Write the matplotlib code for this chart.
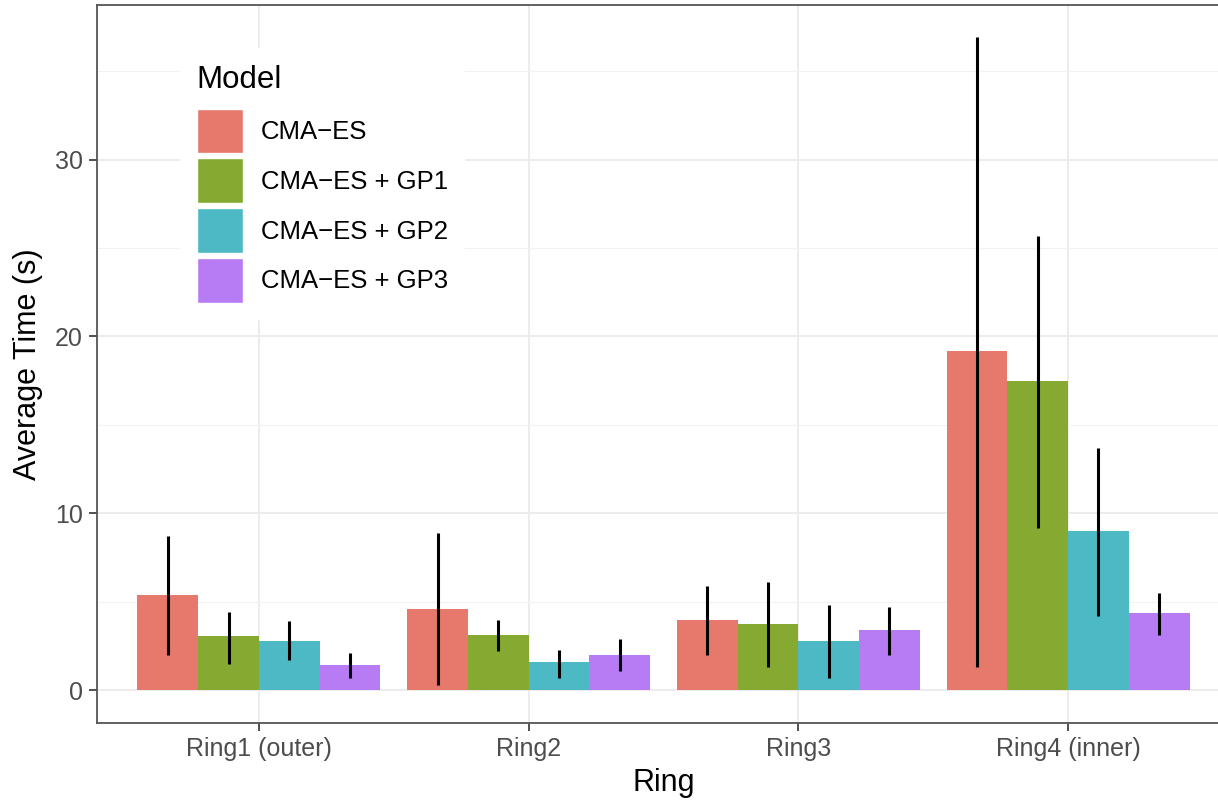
import numpy as np
import matplotlib
matplotlib.use("Agg")
import matplotlib.pyplot as plt
from matplotlib.patches import Patch

plt.rcParams['font.family'] = ['Liberation Sans', 'DejaVu Sans']

rings = ["Ring1 (outer)", "Ring2", "Ring3", "Ring4 (inner)"]
models = ["CMA\u2212ES", "CMA\u2212ES + GP1", "CMA\u2212ES + GP2", "CMA\u2212ES + GP3"]
colors = ["#E7786C", "#86AA31", "#4CB9C4", "#B77BF4"]

# mean time per ring, one list per model
cma = [5.37, 4.6, 4.0, 19.15]
gp1 = [3.05, 3.15, 3.75, 17.5]
gp2 = [2.8, 1.6, 2.8, 9.0]
gp3 = [1.45, 2.0, 3.4, 4.35]

# error bar ranges
cma_lo = [2.0, 0.3, 2.0, 1.3]
cma_hi = [8.7, 8.9, 5.9, 36.9]
gp1_lo = [1.5, 2.2, 1.3, 9.2]
gp1_hi = [4.4, 4.0, 6.1, 25.7]
gp2_lo = [1.7, 0.7, 0.7, 4.2]
gp2_hi = [3.9, 2.3, 4.8, 13.7]
gp3_lo = [0.7, 1.1, 2.0, 3.1]
gp3_hi = [2.1, 2.9, 4.7, 5.5]

means = [cma, gp1, gp2, gp3]
lows = [cma_lo, gp1_lo, gp2_lo, gp3_lo]
highs = [cma_hi, gp1_hi, gp2_hi, gp3_hi]

W, H = 1218, 802
fig = plt.figure(figsize=(W / 100, H / 100), dpi=100)
ax = fig.add_axes([97 / W, 1 - 723 / H, (1230 - 97) / W, (723 - 4.7) / H])

x = np.arange(1, len(rings) + 1)
bw = 0.225
for i in range(4):
    pos = x + (i - 1.5) * bw
    ax.bar(pos, means[i], width=bw, color=colors[i], zorder=2)
    ax.vlines(pos, lows[i], highs[i], color="black", lw=2.2, zorder=3)

ax.set_xlim(0.4, 4.6)
ax.set_ylim(-1.85, 38.75)
ax.set_xticks(x)
ax.set_xticklabels(rings)
ax.set_yticks([0, 10, 20, 30])
ax.set_yticks([5, 15, 25, 35], minor=True)

ax.grid(which="major", color="#EBEBEB", lw=1.3, zorder=0)
ax.grid(which="minor", axis="y", color="#F2F2F2", lw=0.8, zorder=0)
ax.set_axisbelow(True)

for s in ["left", "bottom", "top", "right"]:
    ax.spines[s].set_color("#555555")
    ax.spines[s].set_linewidth(1.3)

ax.tick_params(axis="both", which="major", length=6, width=1.2, color="#333333",
               labelsize=18, labelcolor="#4D4D4D", pad=4)
ax.tick_params(axis="y", which="minor", length=0)

ax.set_xlabel("Ring", fontsize=22, labelpad=5)
ax.set_ylabel("Average Time (s)", fontsize=22, labelpad=9)

handles = [Patch(facecolor=c, edgecolor="white", lw=1) for c in colors]
leg = ax.legend(handles, models, title="Model", loc="upper left",
                bbox_to_anchor=(180 / W, 1 - 48 / H), bbox_transform=fig.transFigure,
                fontsize=18.5, title_fontsize=22.5, frameon=True, fancybox=False,
                facecolor="white", edgecolor="none", framealpha=1,
                handlelength=1.8, handleheight=2.3, labelspacing=0.2,
                handletextpad=0.7, borderpad=0.65, borderaxespad=0,
                alignment="left")
leg._legend_box.sep = 10  # more room under the title
leg.set_zorder(5)

fig.savefig("out.png", dpi=100)
